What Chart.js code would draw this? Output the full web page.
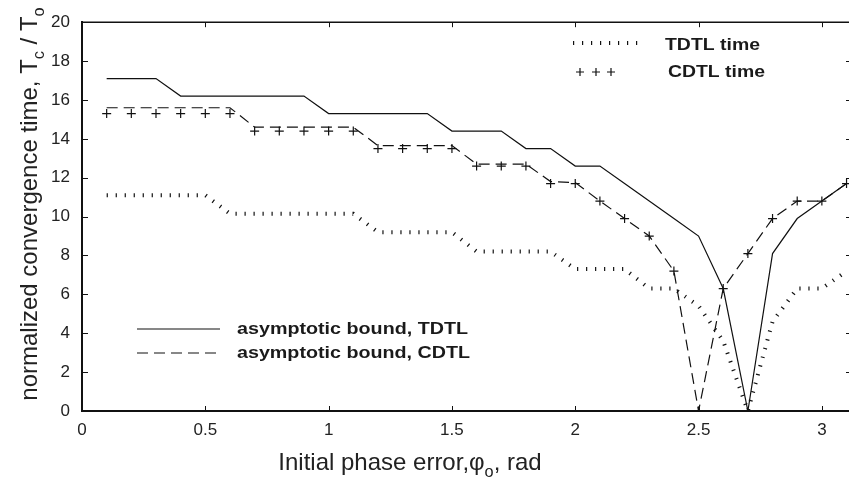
<!DOCTYPE html>
<html>
<head>
<meta charset="utf-8">
<script src="https://cdn.jsdelivr.net/npm/chart.js@4.4.1/dist/chart.umd.min.js"></script>
<style>
html, body { margin: 0; padding: 0; background: #fff; overflow: hidden; }
#wrap { width: 849px; height: 485px; }
canvas { display: block; }
</style>
</head>
<body>
<div id="wrap"><canvas id="c" width="849" height="485" style="width:849px;height:485px"></canvas></div>
<script>
// initial phase error (rad)
const phase = [0.1, 0.2, 0.3, 0.4, 0.5, 0.6, 0.7, 0.8, 0.9, 1.0,
	1.1, 1.2, 1.3, 1.4, 1.5, 1.6, 1.7, 1.8, 1.9, 2.0,
	2.1, 2.2, 2.3, 2.4, 2.5, 2.6, 2.7, 2.8, 2.9, 3.0, 3.1];

// normalized convergence time Tc/To
const tdtlTime = [11.1, 11.1, 11.1, 11.1, 11.1, 10.15, 10.15, 10.15, 10.15, 10.15,
	10.15, 9.2, 9.2, 9.2, 9.2, 8.2, 8.2, 8.2, 8.2, 7.3,
	7.3, 7.3, 6.3, 6.3, 5.4, 3.6, 0, 4.6, 6.3, 6.3, 7.2];
const cdtlTime = [15.3, 15.3, 15.3, 15.3, 15.3, 15.3, 14.4, 14.4, 14.4, 14.4,
	14.4, 13.5, 13.5, 13.5, 13.5, 12.6, 12.6, 12.6, 11.7, 11.7,
	10.8, 9.9, 9.0, 7.2, 0, 6.3, 8.1, 9.9, 10.8, 10.8, 11.7];
const tdtlBound = [17.1, 17.1, 17.1, 16.2, 16.2, 16.2, 16.2, 16.2, 16.2, 15.3,
	15.3, 15.3, 15.3, 15.3, 14.4, 14.4, 14.4, 13.5, 13.5, 12.6,
	12.6, 11.7, 10.8, 9.9, 9.0, 6.3, 0, 8.1, 9.9, 10.8, 11.7];
const cdtlBound = [15.6, 15.6, 15.6, 15.6, 15.6, 15.6, 14.6, 14.6, 14.6, 14.6,
	14.6, 13.65, 13.65, 13.65, 13.65, 12.7, 12.7, 12.7, 11.8, 11.75,
	10.8, 9.9, 9.0, 7.2, 0, 6.3, 8.1, 9.9, 10.8, 10.8, 11.7];

const xTicks = [0, 0.5, 1, 1.5, 2, 2.5, 3];
const yTicks = [0, 2, 4, 6, 8, 10, 12, 14, 16, 18, 20];

const FONT = '"Liberation Sans", Arial, Helvetica, sans-serif';
const INK = '#111';

const pts = vals => vals.map((v, i) => ({ x: phase[i], y: v }));

// texte avec indices (T_c, phi_o ...)
function richWidth(ctx, runs, size) {
	let w = 0;
	runs.forEach(r => {
		ctx.font = (r.sub ? size * 0.68 : size) + 'px ' + FONT;
		w += ctx.measureText(r.t).width;
	});
	return w;
}
function drawRich(ctx, runs, x, y, size) {
	let cx = x;
	runs.forEach(r => {
		ctx.font = (r.sub ? size * 0.68 : size) + 'px ' + FONT;
		ctx.fillText(r.t, cx, y + (r.sub ? size * 0.3 : 0));
		cx += ctx.measureText(r.t).width;
	});
}

const framePlugin = {
	id: 'frame',
	afterDraw(chart) {
		const ctx = chart.ctx, a = chart.chartArea;
		const xs = chart.scales.x, ys = chart.scales.y;
		ctx.save();
		ctx.strokeStyle = INK;
		ctx.lineWidth = 1.6;
		ctx.beginPath();
		ctx.moveTo(a.left, a.top);
		ctx.lineTo(a.right, a.top);
		ctx.stroke();
		// graduations vers l'intérieur (le bord droit sort de l'image)
		ctx.lineWidth = 1;
		ctx.beginPath();
		xTicks.forEach(v => {
			const px = Math.round(xs.getPixelForValue(v)) + 0.5;
			ctx.moveTo(px, a.bottom); ctx.lineTo(px, a.bottom - 5);
			ctx.moveTo(px, a.top); ctx.lineTo(px, a.top + 5);
		});
		yTicks.forEach(v => {
			const py = Math.round(ys.getPixelForValue(v)) + 0.5;
			ctx.moveTo(a.left, py); ctx.lineTo(a.left + 6, py);
			ctx.moveTo(a.right, py); ctx.lineTo(a.right - 3, py);
		});
		ctx.stroke();

		// titres des axes
		ctx.fillStyle = '#222';
		ctx.textBaseline = 'alphabetic';
		const xt = [{ t: 'Initial phase error,' }, { t: '\u03c6' }, { t: 'o', sub: true }, { t: ', rad' }];
		const xw = richWidth(ctx, xt, 24);
		drawRich(ctx, xt, 410 - xw / 2, 470, 24);

		const yt = [{ t: 'normalized convergence time, T' }, { t: 'c', sub: true }, { t: ' / T' }, { t: 'o', sub: true }];
		const yw = richWidth(ctx, yt, 24);
		ctx.save();
		ctx.translate(37, 204);
		ctx.rotate(-Math.PI / 2);
		drawRich(ctx, yt, -yw / 2, 0, 24);
		ctx.restore();

		// légendes
		const ds = chart.data.datasets;
		ctx.lineWidth = ds[0].borderWidth;
		ctx.setLineDash(ds[0].borderDash);
		ctx.beginPath(); ctx.moveTo(573, 43); ctx.lineTo(641, 43); ctx.stroke();
		ctx.setLineDash([]);
		ctx.lineWidth = 1.2;
		[580, 596, 611].forEach(cx => {
			ctx.beginPath();
			ctx.moveTo(cx - 4, 72); ctx.lineTo(cx + 4, 72);
			ctx.moveTo(cx, 68); ctx.lineTo(cx, 76);
			ctx.stroke();
		});
		ctx.beginPath(); ctx.moveTo(137, 329); ctx.lineTo(220, 329); ctx.stroke();
		ctx.setLineDash(ds[3].borderDash);
		ctx.beginPath(); ctx.moveTo(137, 353); ctx.lineTo(222, 353); ctx.stroke();
		ctx.setLineDash([]);

		ctx.fillStyle = '#1a1a1a';
		ctx.textBaseline = 'middle';
		ctx.font = 'bold 17px ' + FONT;
		const label = (txt, x, y, w) => {
			const m = ctx.measureText(txt).width;
			ctx.save();
			ctx.translate(x, y);
			ctx.scale(w / m, 1);
			ctx.fillText(txt, 0, 0);
			ctx.restore();
		};
		label('TDTL time', 665, 45, 95);
		label('CDTL time', 668, 72, 97);
		label('asymptotic bound, TDTL', 237, 329, 231);
		label('asymptotic bound, CDTL', 237, 353, 233);
		ctx.restore();
	}
};

new Chart(document.getElementById('c'), {
	type: 'line',
	data: {
		datasets: [
			{
				label: 'TDTL time',
				data: pts(tdtlTime),
				borderColor: INK,
				borderWidth: 4,
				borderDash: [1.2, 7.8],
				borderCapStyle: 'butt',
				pointRadius: 0,
				tension: 0
			},
			{
				label: 'CDTL time',
				data: pts(cdtlTime),
				showLine: false,
				pointStyle: 'cross',
				pointRadius: 4.5,
				pointBorderWidth: 1.2,
				pointBorderColor: INK,
				borderColor: INK
			},
			{
				label: 'asymptotic bound, TDTL',
				data: pts(tdtlBound),
				borderColor: INK,
				borderWidth: 1.2,
				pointRadius: 0,
				tension: 0
			},
			{
				label: 'asymptotic bound, CDTL',
				data: pts(cdtlBound),
				borderColor: INK,
				borderWidth: 1.2,
				borderDash: [11, 6],
				pointRadius: 0,
				tension: 0
			}
		]
	},
	options: {
		responsive: false,
		animation: false,
		devicePixelRatio: 1,
		layout: { autoPadding: false, padding: { top: 10, right: 0, left: 0, bottom: 0 } },
		plugins: {
			legend: { display: false },
			tooltip: { enabled: false }
		},
		scales: {
			x: {
				type: 'linear',
				min: 0,
				max: 3.11,
				afterFit: s => { s.height = 74; s.paddingRight = 0; s.paddingLeft = 0; },
				grid: { display: true, drawOnChartArea: false, drawTicks: false },
				border: { display: true, color: INK, width: 2 },
				ticks: {
					stepSize: 0.5,
					includeBounds: false,
					padding: 9,
					color: '#222',
					font: { family: FONT, size: 17 },
					maxRotation: 0,
					callback: v => String(v)
				}
			},
			y: {
				min: 0,
				max: 20,
				afterFit: s => { s.width = 82; },
				grid: { display: true, drawOnChartArea: false, drawTicks: false },
				border: { display: true, color: INK, width: 2 },
				ticks: {
					stepSize: 2,
					padding: 12,
					color: '#222',
					font: { family: FONT, size: 17 }
				}
			}
		}
	},
	plugins: [framePlugin]
});
</script>
</body>
</html>
